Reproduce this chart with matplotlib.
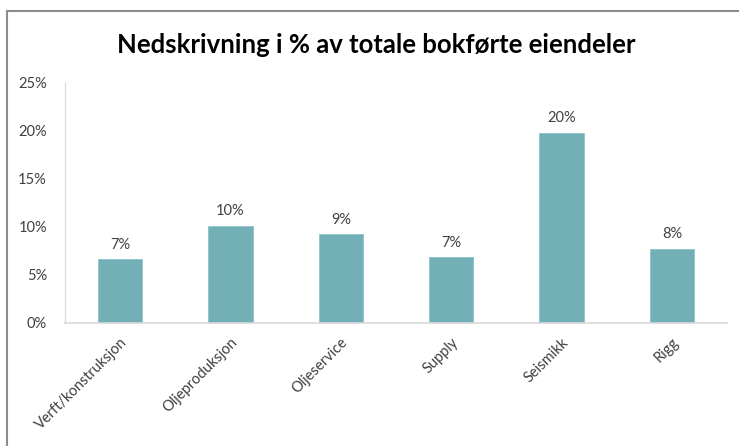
import matplotlib.pyplot as plt
from matplotlib.patches import Rectangle

# Nedskrivning som andel av totale bokførte eiendeler
categories = ["Verft/konstruksjon", "Oljeproduksjon", "Oljeservice",
              "Supply", "Seismikk", "Rigg"]
values = [0.066, 0.1005, 0.092, 0.068, 0.197, 0.077]
y_ticks = [0, 0.05, 0.10, 0.15, 0.20, 0.25]

plt.rcParams['font.family'] = ['Lato', 'DejaVu Sans']

fig = plt.figure(figsize=(7.39, 4.46), dpi=100)
ax = fig.add_axes([65 / 739, 1 - 323 / 446, 662 / 739, 241 / 446])

x = range(len(categories))
bars = ax.bar(x, values, width=0.4, color="#72AFB6", edgecolor="#8CC4CA", linewidth=0.6)

for xi, v in zip(x, values):
    ax.text(xi, v + 0.008, "{:.0f}%".format(v * 100), ha="center", va="bottom",
            fontsize=10.5, color="#404040")

ax.set_xlim(-0.5, len(categories) - 0.5)
ax.set_ylim(0, 0.25)
ax.set_yticks(y_ticks)
ax.set_yticklabels(["{:.0f}%".format(t * 100) for t in y_ticks])
ax.set_xticks(list(x))
ax.set_xticklabels(categories, rotation=45, ha="right", rotation_mode="anchor")
ax.tick_params(axis="both", length=0, labelsize=10.5, colors="#404040")
ax.tick_params(axis="y", pad=13)
ax.tick_params(axis="x", pad=9)

for s in ["top", "right"]:
    ax.spines[s].set_visible(False)
ax.spines["left"].set_color("#D9D9D9")
ax.spines["bottom"].set_color("#D9D9D9")
ax.spines["bottom"].set_linewidth(1.2)

fig.text(376 / 739, 1 - 45 / 446, "Nedskrivning i % av totale bokførte eiendeler",
         ha="center", va="center", fontsize=18.5, fontweight="bold", color="black")

# chart frame (cut off at right and bottom in the original)
fig.patches.append(Rectangle((7 / 739, -0.1), 1.2, 1 - 11 / 446 + 0.1,
                             transform=fig.transFigure, fill=False,
                             edgecolor="#8C8C8C", linewidth=1.5))

fig.savefig("out.png", dpi=100)
